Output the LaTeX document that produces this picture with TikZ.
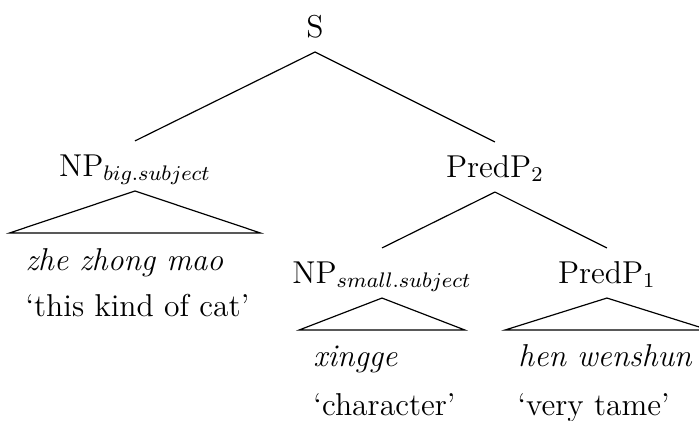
\documentclass[12pt,tikz,border=0pt]{standalone}
\usepackage{tikz}
\usetikzlibrary{positioning, calc}

\begin{document}
\begin{tikzpicture}[
    x=1.176cm, y=1.176cm,
    phrase/.style={inner sep=0pt, text height=1.5ex, text depth=0pt, minimum height=0.654cm},
    leaf/.style={anchor=base west, inner sep=0pt, font=\itshape},
    gloss/.style={anchor=base west, inner sep=0pt},
    branch/.style={draw, line width=0.45pt},
    roof/.style={draw, line width=0.45pt, line join=miter}
]
\useasboundingbox (0,0) rectangle (7.927,-4.774);

% phrase labels
\node[phrase] (S) at (3.572,-0.306) {S};
\node[phrase] (npbig) at (1.531,-1.882) {NP$_{big.subject}$};
\node[phrase] (pred2) at (5.613,-1.894) {PredP$_2$};
\node[phrase] (npsmall) at (4.332,-3.096) {NP$_{small.subject}$};
\node[phrase] (pred1) at (6.883,-3.096) {PredP$_1$};

% words and glosses
\node[leaf] (w1) at (0.284,-3.062) {zhe zhong mao};
\node[gloss] (g1) at (0.284,-3.584) {`this kind of cat'};
\node[leaf] (w2) at (3.549,-4.162) {xingge};
\node[gloss] (g2) at (3.549,-4.717) {`character'};
\node[leaf] (w3) at (5.874,-4.162) {hen wenshun};
\node[gloss] (g3) at (5.863,-4.717) {`very tame'};

% branches
\draw[branch] (S.south) -- (npbig.north);
\draw[branch] (S.south) -- (pred2.north);
\draw[branch] (pred2.south) -- (npsmall.north);
\draw[branch] (pred2.south) -- (pred1.north);

% roofs
\draw[roof] (npbig.south) -- ++(-1.423,-0.476) -- ++(2.846,0) -- cycle;
\draw[roof] (npsmall.south) -- ++(-0.941,-0.363) -- ++(1.882,0) -- cycle;
\draw[roof] (pred1.south) -- ++(-1.157,-0.363) -- ++(2.314,0) -- cycle;

\end{tikzpicture}
\end{document}
